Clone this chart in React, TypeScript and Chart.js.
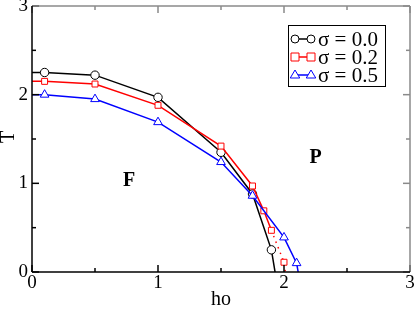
import React, { useEffect, useRef } from 'react';
import { Chart, registerables } from 'chart.js';

Chart.register(...registerables);

const FONT = '"Liberation Serif", "DejaVu Serif", "Times New Roman", serif';

// Data (rho, T) for each sigma
const rhoS00 = [-0.1, 0.1, 0.5, 1.0, 1.5, 1.75, 1.9, 1.95];
const tS00 = [2.25, 2.25, 2.22, 1.97, 1.35, 0.88, 0.25, -0.18];
const rhoS02 = [-0.1, 0.1, 0.5, 1.0, 1.5, 1.75, 1.84, 1.9, 2.0, 2.02];
const tS02 = [2.15, 2.15, 2.12, 1.88, 1.42, 0.97, 0.69, 0.47, 0.11, -0.1];
const rhoS05 = [-0.1, 0.1, 0.5, 1.0, 1.5, 1.75, 2.0, 2.1, 2.125];
const tS05 = [2.0, 2.0, 1.95, 1.69, 1.24, 0.86, 0.39, 0.1, -0.1];

const seriesLabels = ['σ = 0.0', 'σ = 0.2', 'σ = 0.5'];
const seriesColors = ['#000000', '#ff0000', '#0000ff'];
const seriesStyles = ['circle', 'rect', 'triangle'];

const majorTicks = [0, 1, 2, 3];
const minorTicks = [0.5, 1.5, 2.5];
const tickLabels = ['0', '1', '2', '3'];

const regionLabels = ['F', 'P'];
const regionX = [0.77, 2.25];
const regionY = [1.03, 1.29];

const xTitle = 'ho';
const yTitle = 'T';

function toPoints(xs: number[], ys: number[]) {
  return xs.map((x, i) => ({ x, y: ys[i] }));
}

function drawMarker(ctx: CanvasRenderingContext2D, style: string, x: number, y: number, color: string) {
  ctx.save();
  ctx.beginPath();
  if (style === 'circle') {
    ctx.arc(x, y, 4, 0, Math.PI * 2);
  } else if (style === 'rect') {
    ctx.rect(x - 4, y - 4, 8, 8);
  } else {
    const r = 5;
    ctx.moveTo(x, y - r);
    ctx.lineTo(x + r * 0.95, y + r * 0.6);
    ctx.lineTo(x - r * 0.95, y + r * 0.6);
    ctx.closePath();
  }
  ctx.fillStyle = '#ffffff';
  ctx.fill();
  ctx.strokeStyle = color;
  ctx.lineWidth = 1;
  ctx.stroke();
  ctx.restore();
}

const framePlugin = {
  id: 'framePlugin',
  afterDatasetsDraw(chart: any) {
    const { ctx, chartArea: a, scales } = chart;
    const xs = scales.x;
    const ys = scales.y;
    ctx.save();
    const gray = '#8a8a8a';
    const black = '#000000';
    ctx.lineWidth = 1.5;

    const line = (x1: number, y1: number, x2: number, y2: number, c: string) => {
      ctx.beginPath();
      ctx.strokeStyle = c;
      ctx.moveTo(x1, y1);
      ctx.lineTo(x2, y2);
      ctx.stroke();
    };

    // ticks
    const all = [...majorTicks.map((v) => [v, 7]), ...minorTicks.map((v) => [v, 4])];
    all.forEach(([v, len]) => {
      const px = xs.getPixelForValue(v);
      const py = ys.getPixelForValue(v);
      line(px, a.top, px, a.top + len, gray);
      line(a.right, py, a.right - len, py, gray);
      line(px, a.bottom, px, a.bottom - len, black);
      line(a.left, py, a.left + len, py, black);
    });

    // frame
    line(a.left, a.top, a.right, a.top, gray);
    line(a.right, a.top, a.right, a.bottom, gray);
    line(a.left, a.bottom, a.right, a.bottom, black);
    line(a.left, a.top, a.left, a.bottom, black);

    // tick labels
    ctx.fillStyle = '#000';
    ctx.font = `19px ${FONT}`;
    ctx.textAlign = 'center';
    ctx.textBaseline = 'middle';
    majorTicks.forEach((v, i) => {
      ctx.fillText(tickLabels[i], xs.getPixelForValue(v), a.bottom + 11);
    });
    ctx.textAlign = 'right';
    majorTicks.forEach((v, i) => {
      ctx.fillText(tickLabels[i], a.left - 4, ys.getPixelForValue(v));
    });

    // axis titles
    ctx.font = `20px ${FONT}`;
    ctx.textAlign = 'center';
    ctx.fillText(xTitle, (a.left + a.right) / 2, 300);
    ctx.save();
    ctx.translate(9, (a.top + a.bottom) / 2 - 2);
    ctx.rotate(-Math.PI / 2);
    ctx.fillText(yTitle, 0, 0);
    ctx.restore();

    // region labels
    ctx.font = `bold 20px ${FONT}`;
    regionLabels.forEach((t, i) => {
      ctx.fillText(t, xs.getPixelForValue(regionX[i]), ys.getPixelForValue(regionY[i]));
    });

    // legend
    const bx = 288, by = 25, bw = 97, bh = 61;
    ctx.fillStyle = '#fff';
    ctx.fillRect(bx, by, bw, bh);
    ctx.lineWidth = 1;
    ctx.strokeStyle = '#000';
    ctx.strokeRect(bx + 0.5, by + 0.5, bw, bh);
    ctx.font = `21px ${FONT}`;
    ctx.textAlign = 'left';
    ctx.textBaseline = 'middle';
    seriesLabels.forEach((lbl, i) => {
      const yy = 39 + i * 18;
      ctx.lineWidth = 1.5;
      line(295, yy, 311, yy, seriesColors[i]);
      drawMarker(ctx, seriesStyles[i], 295, yy, seriesColors[i]);
      drawMarker(ctx, seriesStyles[i], 311, yy, seriesColors[i]);
      ctx.fillStyle = '#000';
      ctx.fillText(lbl, 318, yy + 1);
    });
    ctx.restore();
  },
};

export default function App() {
  const ref = useRef<HTMLCanvasElement | null>(null);
  useEffect(() => {
    if (!ref.current) return;
    const mk = (i: number, xs: number[], ys: number[], dashFrom: number, order: number) => ({
      label: seriesLabels[i],
      data: toPoints(xs, ys),
      borderColor: seriesColors[i],
      backgroundColor: '#ffffff',
      pointBackgroundColor: '#ffffff',
      pointBorderColor: seriesColors[i],
      pointBorderWidth: 1,
      pointStyle: seriesStyles[i],
      pointRadius: xs.map((x, j) => (j === 0 || j === xs.length - 1 ? 0 : i === 2 ? 5 : 4.2)),
      borderWidth: 1.5,
      tension: 0,
      clip: 0,
      order,
      segment: {
        borderDash: (c: any) => (dashFrom >= 0 && c.p0DataIndex >= dashFrom ? [1.5, 4.5] : undefined),
      },
    });
    const chart = new Chart(ref.current, {
      type: 'line',
      data: {
        datasets: [
          mk(0, rhoS00, tS00, -1, 2),
          mk(1, rhoS02, tS02, 7, 1),
          mk(2, rhoS05, tS05, -1, 0),
        ] as any,
      },
      options: {
        animation: false,
        responsive: false,
        devicePixelRatio: 1,
        layout: { padding: { left: 32, right: 5, top: 6, bottom: 37 } },
        scales: {
          x: { type: 'linear', min: 0, max: 3, display: false },
          y: { type: 'linear', min: 0, max: 3, display: false },
        },
        plugins: { legend: { display: false }, tooltip: { enabled: false } },
      },
      plugins: [framePlugin],
    });
    return () => chart.destroy();
  }, []);
  return (
    <div style={{ position: 'absolute', left: 0, top: 0, width: 415, height: 309, background: '#fff' }}>
      <canvas ref={ref} width={415} height={309} />
    </div>
  );
}
